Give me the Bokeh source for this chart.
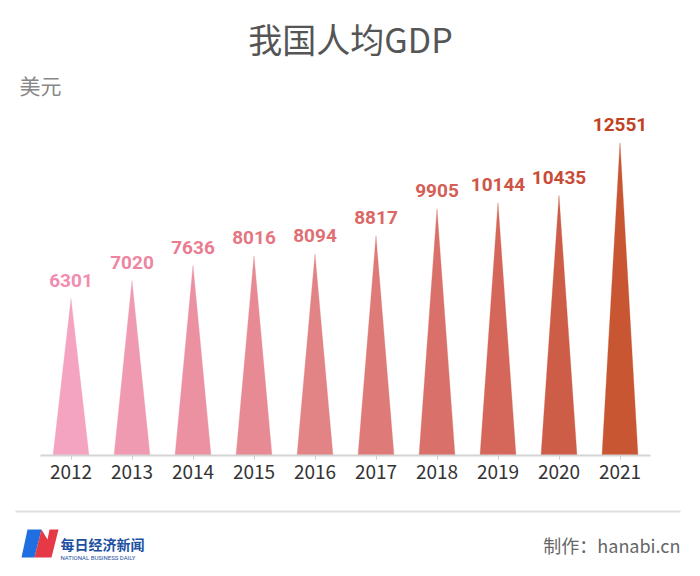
from bokeh.plotting import figure
from bokeh.layouts import column
from bokeh.models import ColumnDataSource, FactorRange, Range1d
from bokeh.core.properties import value
from bokeh.embed import file_html
from bokeh.resources import INLINE

# ---- data ----
years = ["2012", "2013", "2014", "2015", "2016", "2017", "2018", "2019", "2020", "2021"]
gdp = [6301, 7020, 7636, 8016, 8094, 8817, 9905, 10144, 10435, 12551]
bar_colors = ["#F4A3C1", "#F09AB2", "#EB91A1", "#E78A93", "#E28386",
              "#DE7A77", "#D9716A", "#D4675A", "#CE5D47", "#C85632"]
label_colors = ["#F28CAF", "#EE86A2", "#E97D8F", "#E57783", "#E07074",
                "#DB6865", "#D55E56", "#CF5547", "#C94B36", "#C2411F"]
title_text = "我国人均GDP"
unit_text = "美元"
credit_text = "制作：hanabi.cn"
logo_cn = "每日经济新闻"
logo_en = "NATIONAL BUSINESS DAILY"

CJK = "Noto Sans CJK SC"
W = 700
HALF = 0.295


def blank(height, y_top, y_bottom):
    f = figure(width=W, height=height, x_range=Range1d(0, W),
               y_range=Range1d(y_bottom, y_top),
               output_backend="svg", toolbar_location=None,
               frame_align=False,
               min_border=0, min_border_left=0, min_border_right=0,
               min_border_top=0, min_border_bottom=0)
    f.axis.visible = False
    f.grid.visible = False
    f.outline_line_color = None
    f.background_fill_color = "white"
    f.border_fill_color = "white"
    return f


# ---- header (page y 0..100, y grows downward) ----
head = blank(100, 0, 100)
head.text(x=[350], y=[38], text=[title_text], text_font=value(CJK),
          text_font_size="34px", text_color="#555555",
          text_align="center", text_baseline="middle")
head.text(x=[19], y=[84], text=[unit_text], text_font=value(CJK),
          text_font_size="21px", text_color="#888888",
          text_align="left", text_baseline="middle")

# ---- main chart (page y 100..500, frame 100..455) ----
xs = [[i + 0.5 - HALF, i + 0.5, i + 0.5 + HALF] for i in range(len(years))]
ys = [[0, v, 0] for v in gdp]
src = ColumnDataSource(dict(xs=xs, ys=ys, color=bar_colors))
lab = ColumnDataSource(dict(x=[i + 0.5 for i in range(len(years))], y=gdp,
                            t=[str(v) for v in gdp], c=label_colors))

p = figure(width=W, height=400,
           x_range=FactorRange(*years, range_padding=0, factor_padding=0),
           y_range=Range1d(0, 14250),
           output_backend="svg", toolbar_location=None,
           frame_align=False,
           min_border_left=40, min_border_right=50,
           min_border_top=0, min_border_bottom=45)
p.background_fill_color = "white"
p.border_fill_color = "white"
p.outline_line_color = None
p.grid.visible = False
p.yaxis.visible = False

p.patches("xs", "ys", source=src, fill_color="color", line_color="color",
          line_width=0.5, line_alpha=0.6)
p.text("x", "y", text="t", source=lab, text_color="c",
       text_font=value("Roboto"), text_font_style="bold",
       text_font_size="19px", text_align="center",
       text_baseline="alphabetic", y_offset=-18)

ax = p.xaxis[0]
ax.axis_line_color = "#d4d4d4"
ax.axis_line_width = 2
ax.major_tick_line_color = "#cccccc"
ax.major_tick_in = 0
ax.major_tick_out = 4
ax.minor_tick_line_color = None
ax.major_label_text_font = CJK
ax.major_label_text_font_size = "19px"
ax.major_label_text_color = "#333333"
ax.major_label_standoff = 5

# ---- footer (page y 500..576) ----
foot = blank(76, 500, 576)
foot.patch(x=[15, 680, 680, 15], y=[510, 510, 512, 512],
           fill_color="#e0e0e0", line_color=None)
foot.patch(x=[27, 41, 34, 21], y=[529, 529, 557, 557],
           fill_color="#1F6FE0", line_color=None)
foot.patch(x=[41, 47, 49, 58, 51, 34], y=[529, 539, 529, 529, 557, 557],
           fill_color="#E63946", line_color=None)
foot.text(x=[60], y=[543], text=[logo_cn], text_font=value(CJK),
          text_font_style="bold", text_font_size="14px", text_color="#1E50A2",
          text_align="left", text_baseline="middle")
foot.text(x=[60], y=[557], text=[logo_en], text_font=value("Roboto"),
          text_font_size="6px", text_color="#1E50A2",
          text_align="left", text_baseline="middle")
foot.text(x=[680], y=[544], text=[credit_text], text_font=value(CJK),
          text_font_size="18px", text_color="#666666",
          text_align="right", text_baseline="middle")

layout = column(head, p, foot, spacing=0)
open("out.html", "w").write(file_html(layout, INLINE))
